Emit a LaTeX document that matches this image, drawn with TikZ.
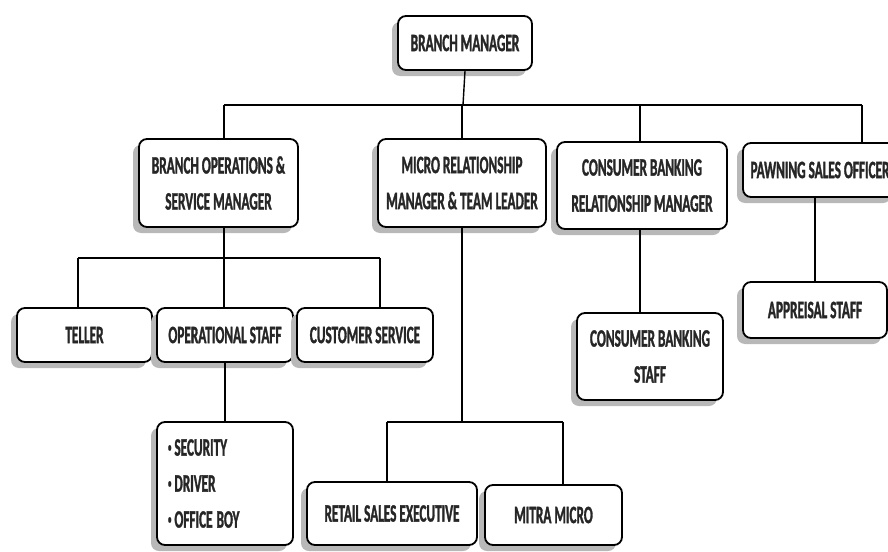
\documentclass[tikz,border=0pt]{standalone}
\usepackage{fontspec}
\newfontfamily\orgfont{Carlito}[FakeStretch=0.53, FakeBold=1.2]
\usetikzlibrary{shadows}
\newcommand{\smallbul}{\raisebox{4pt}{\fontsize{13}{13}\selectfont\textbullet}\hspace{3pt}}
\begin{document}
\begin{tikzpicture}[x=1pt,y=-1pt,
  box/.style={draw=black, line width=1.8pt, rounded corners=8pt, fill=white, align=center,
    font=\orgfont\bfseries\fontsize{25}{36}\selectfont, text=black!85, inner sep=0pt,
    drop shadow={shadow xshift=-6pt, shadow yshift=-6pt, fill=black!28, opacity=1}},
  conn/.style={draw=black, line width=1.4pt}]
\useasboundingbox[fill=white] (0,0) rectangle (888,551);
% nodes
\node[box, minimum width=134pt, minimum height=54pt] (bm) at (465,43) {BRANCH MANAGER};
\node[box, minimum width=159pt, minimum height=88pt] (bops) at (218.5,183) {BRANCH OPERATIONS \&\\SERVICE MANAGER};
\node[box, minimum width=168pt, minimum height=88pt] (micro) at (462,183) {MICRO RELATIONSHIP\\MANAGER \& TEAM LEADER};
\node[box, minimum width=170pt, minimum height=87pt] (cbrm) at (642,185.5) {CONSUMER BANKING\\RELATIONSHIP MANAGER};
\node[box, minimum width=154pt, minimum height=54pt] (pso) at (820,170) {PAWNING SALES OFFICER};
\node[box, minimum width=135pt, minimum height=54pt] (teller) at (84.5,335) {TELLER};
\node[box, minimum width=136pt, minimum height=54pt] (ops) at (225,335) {OPERATIONAL STAFF};
\node[box, minimum width=136pt, minimum height=54pt] (cs) at (365,335) {CUSTOMER SERVICE};
\node[box, minimum width=146pt, minimum height=87pt] (cbs) at (650,356.5) {CONSUMER BANKING\\STAFF};
\node[box, minimum width=144pt, minimum height=56pt] (app) at (815,310) {APPREISAL STAFF};
\node[box, minimum width=136pt, minimum height=123pt, text width=114pt, align=left] (sec) at (225,483.5) {\smallbul SECURITY\\\smallbul DRIVER\\\smallbul OFFICE\hspace{4pt}BOY};
\node[box, minimum width=170pt, minimum height=63pt] (rse) at (392,513.5) {RETAIL SALES EXECUTIVE};
\node[box, minimum width=137pt, minimum height=60pt] (mitra) at (553.5,515) {MITRA MICRO};
% bus coordinates
\coordinate (b1) at (463,105);
\coordinate (b1a) at (224,105);
\coordinate (b1b) at (462,105);
\coordinate (b1c) at (640,105);
\coordinate (b1d) at (862,105);
\coordinate (b2) at (224,258);
\coordinate (b2a) at (78,258);
\coordinate (b2c) at (380,258);
\coordinate (b3) at (462,422);
\coordinate (b3a) at (387,422);
\coordinate (b3b) at (563,422);
% connectors
\draw[conn] (bm.south) -- (b1);
\draw[conn] (b1a) -- (b1d);
\draw[conn] (b1a) -- (b1a |- bops.north);
\draw[conn] (b1b) -- (b1b |- micro.north);
\draw[conn] (b1c) -- (b1c |- cbrm.north);
\draw[conn] (b1d) -- (b1d |- pso.north);
\draw[conn] (b2 |- bops.south) -- (b2);
\draw[conn] (b2a) -- (b2c);
\draw[conn] (b2a) -- (b2a |- teller.north);
\draw[conn] (b2) -- (b2 |- ops.north);
\draw[conn] (b2c) -- (b2c |- cs.north);
\draw[conn] (ops.south) -- (sec.north);
\draw[conn] (b3 |- micro.south) -- (b3);
\draw[conn] (b3a) -- (b3b);
\draw[conn] (b3a) -- (b3a |- rse.north);
\draw[conn] (b3b) -- (b3b |- mitra.north);
\draw[conn] (cbs.north -| b1c) -- (b1c |- cbrm.south);
\draw[conn] (app.north) -- (app.north |- pso.south);
\end{tikzpicture}
\end{document}
